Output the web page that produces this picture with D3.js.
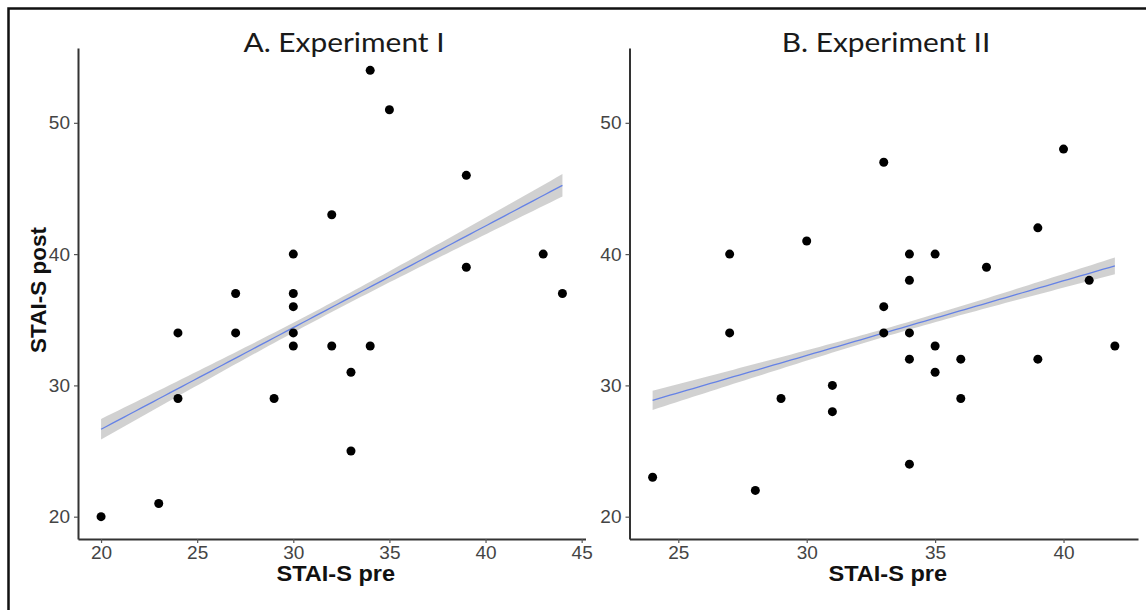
<!DOCTYPE html>
<html>
<head>
<meta charset="utf-8">
<script src="https://cdn.jsdelivr.net/npm/d3@7"></script>
<style>
  html, body { margin: 0; padding: 0; background: #ffffff; }
  svg { display: block; }
</style>
</head>
<body>
<svg id="chart" width="1146" height="610"></svg>
<script>
// ---------------- DATA ----------------
const panelTitles = ["A. Experiment I", "B. Experiment II"];
const xAxisTitle = "STAI-S pre";
const yAxisTitle = "STAI-S post";

const expIPre  = [34, 35, 39, 32, 30, 43, 39, 27, 30, 44, 30, 24, 27, 30, 30, 32, 34, 33, 24, 29, 33, 23, 20];
const expIPost = [54, 51, 46, 43, 40, 40, 39, 37, 37, 37, 36, 34, 34, 34, 33, 33, 33, 31, 29, 29, 25, 21, 20];

const expIIPre  = [33, 40, 39, 30, 27, 34, 35, 37, 34, 41, 33, 27, 33, 34, 35, 42, 34, 36, 39, 35, 31, 29, 36, 31, 34, 24, 28];
const expIIPost = [47, 48, 42, 41, 40, 40, 40, 39, 38, 38, 36, 34, 34, 34, 33, 33, 32, 32, 32, 31, 30, 29, 29, 28, 24, 23, 22];

const xTicksI  = [20, 25, 30, 35, 40, 45];
const xTicksII = [25, 30, 35, 40];
const yTicks   = [20, 30, 40, 50];

// ---------------- HELPERS ----------------
function expand(ext, f) { const r = ext[1] - ext[0]; return [ext[0] - r * f, ext[1] + r * f]; }

function linFit(xs, ys) {
  const n = xs.length;
  const mx = d3.mean(xs), my = d3.mean(ys);
  let sxx = 0, sxy = 0;
  for (let i = 0; i < n; i++) { sxx += (xs[i] - mx) ** 2; sxy += (xs[i] - mx) * (ys[i] - my); }
  const b = sxy / sxx, a = my - b * mx;
  let ss = 0;
  for (let i = 0; i < n; i++) ss += (ys[i] - (a + b * xs[i])) ** 2;
  const s = Math.sqrt(ss / (n - 2));
  return { a, b, se: x => s * Math.sqrt(1 / n + (x - mx) ** 2 / sxx) };
}

const svg = d3.select("#chart");

// frame around the figure
svg.append("path")
  .attr("d", "M8.5,610 L8.5,8.5 L1146,8.5")
  .attr("fill", "none").attr("stroke", "#111").attr("stroke-width", 2.5);

const allY = expIPost.concat(expIIPost);
const yDomain = expand(d3.extent(allY), 0.05);
const yRange = [539, 48];
const bandMult = 0.25;

const panels = [
  { title: panelTitles[0], xs: expIPre, ys: expIPost, xTicks: xTicksI, xRange: [78, 585.5], titleX: 344 },
  { title: panelTitles[1], xs: expIIPre, ys: expIIPost, xTicks: xTicksII, xRange: [629.5, 1138], titleX: 886 }
];

panels.forEach((p, idx) => {
  const x = d3.scaleLinear().domain(expand(d3.extent(p.xs), 0.05)).range(p.xRange);
  const y = d3.scaleLinear().domain(yDomain).range(yRange);
  const g = svg.append("g");

  // title
  g.append("text")
    .attr("transform", `translate(${p.titleX},52) scale(1.15,1)`)
    .attr("text-anchor", "middle")
    .attr("font-family", "Lato, 'Open Sans', sans-serif")
    .attr("font-size", 26).attr("fill", "#1a1a1a")
    .text(p.title);

  // regression + band
  const fit = linFit(p.xs, p.ys);
  const ext = d3.extent(p.xs);
  const grid = d3.range(0, 81).map(i => ext[0] + (ext[1] - ext[0]) * i / 80);
  const area = d3.area()
    .x(d => x(d))
    .y0(d => y(fit.a + fit.b * d - bandMult * fit.se(d)))
    .y1(d => y(fit.a + fit.b * d + bandMult * fit.se(d)));
  g.append("path").attr("d", area(grid)).attr("fill", "#999999").attr("fill-opacity", 0.45);
  g.append("path")
    .attr("d", d3.line().x(d => x(d)).y(d => y(fit.a + fit.b * d))(grid))
    .attr("fill", "none").attr("stroke", "#6582e6").attr("stroke-width", 1.3);

  // points
  g.selectAll("circle.pt").data(p.xs.map((v, i) => [v, p.ys[i]])).enter()
    .append("circle").attr("class", "pt")
    .attr("cx", d => x(d[0])).attr("cy", d => y(d[1]))
    .attr("r", 4.5).attr("fill", "#000");

  // axes
  const xAxis = g.append("g").attr("transform", `translate(0,${yRange[0]})`)
    .call(d3.axisBottom(x).tickValues(p.xTicks).tickSize(4).tickPadding(2).tickSizeOuter(0));
  const yAxis = g.append("g").attr("transform", `translate(${p.xRange[0]},0)`)
    .call(d3.axisLeft(y).tickValues(yTicks).tickSize(4).tickPadding(4).tickSizeOuter(0));
  [xAxis, yAxis].forEach(ax => {
    ax.select(".domain").attr("stroke", "#333").attr("stroke-width", 2);
    ax.selectAll(".tick line").attr("stroke", "#555").attr("stroke-width", 1.2);
    ax.selectAll(".tick text")
      .attr("font-family", "'Liberation Sans', Arial, sans-serif")
      .attr("font-size", 19).attr("fill", "#444");
  });
  xAxis.selectAll(".tick text").attr("dy", "0.72em");

  // x axis title
  const xm = (p.xRange[0] + p.xRange[1]) / 2;
  g.append("text")
    .attr("transform", `translate(${xm + 4},581) scale(1.07,1)`)
    .attr("text-anchor", "middle")
    .attr("font-family", "'Liberation Sans', Arial, sans-serif")
    .attr("font-weight", "bold").attr("font-size", 22).attr("fill", "#111")
    .text(xAxisTitle);

  if (idx === 0) {
    g.append("text")
      .attr("transform", `translate(46,290) rotate(-90)`)
      .attr("text-anchor", "middle")
      .attr("font-family", "'Liberation Sans', Arial, sans-serif")
      .attr("font-weight", "bold").attr("font-size", 22.5).attr("fill", "#111")
      .text(yAxisTitle);
  }
});
</script>
</body>
</html>
